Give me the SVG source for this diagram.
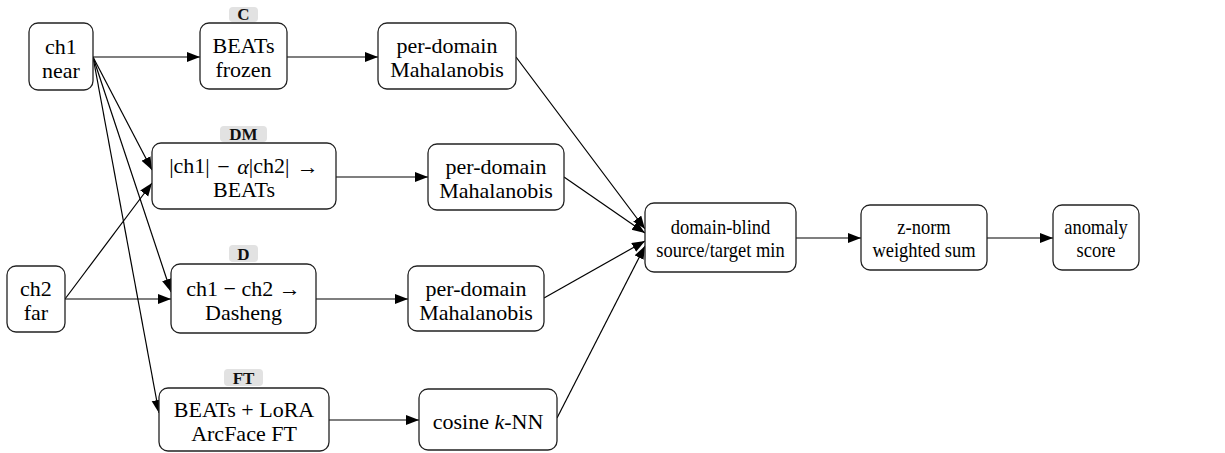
<svg xmlns="http://www.w3.org/2000/svg" width="1225" height="453" viewBox="0 0 1225 453">
<style>
.box{fill:#fff;stroke:#222;stroke-width:1.3}
.t{font-size:22px;fill:#000;text-anchor:middle;dominant-baseline:central}
.s{font-size:21px;fill:#000;text-anchor:middle;dominant-baseline:central}
.pill{fill:#e2e2e2;stroke:none}
.pt{font-size:17px;font-weight:bold;fill:#111;text-anchor:middle;dominant-baseline:central}
.e{stroke:#000;stroke-width:1.2;fill:none;marker-end:url(#ah)}
</style>
<defs>
<marker id="ah" markerUnits="userSpaceOnUse" markerWidth="14" markerHeight="11" refX="13" refY="5" orient="auto">
<path d="M0,0 L13,5 L0,10 z" fill="#000"/>
</marker>
</defs>
<rect width="1225" height="453" fill="#fff"/>
<g id="connectors">
<line class="e" x1="93" y1="57" x2="200" y2="57"/>
<line class="e" x1="287" y1="57" x2="378" y2="57"/>
<line class="e" x1="93" y1="57" x2="152" y2="170"/>
<line class="e" x1="65" y1="299" x2="152" y2="183"/>
<line class="e" x1="93" y1="57" x2="171" y2="292"/>
<line class="e" x1="65" y1="299" x2="171" y2="299"/>
<line class="e" x1="93" y1="57" x2="159" y2="413"/>
<line class="e" x1="336" y1="177" x2="428" y2="177"/>
<line class="e" x1="316" y1="299" x2="408" y2="299"/>
<line class="e" x1="329" y1="420" x2="419" y2="420"/>
<line class="e" x1="516" y1="57" x2="645" y2="229"/>
<line class="e" x1="564" y1="177" x2="645" y2="233"/>
<line class="e" x1="544" y1="298" x2="645" y2="241"/>
<line class="e" x1="557" y1="418" x2="645" y2="246"/>
<line class="e" x1="796" y1="238" x2="861" y2="238"/>
<line class="e" x1="987" y1="238" x2="1053" y2="238"/>
</g>
<g font-family="'Liberation Serif', 'Times New Roman', Tinos, 'Nimbus Roman', serif">
<g id="ch1">
<rect class="box" x="29" y="23" width="64" height="67" rx="9"/>
<text class="t" x="61" y="46">ch1</text>
<text class="t" x="61" y="70">near</text>
</g>
<g id="ch2">
<rect class="box" x="7" y="266" width="58" height="66" rx="9"/>
<text class="t" x="36" y="288.5">ch2</text>
<text class="t" x="36" y="312.5">far</text>
</g>
<g id="beats_frozen">
<rect class="pill" x="229" y="7" width="29" height="15" rx="4"/>
<text class="pt" x="243.5" y="14.5">C</text>
<rect class="box" x="200" y="23" width="87" height="66" rx="9"/>
<text class="t" x="243.5" y="45.5">BEATs</text>
<text class="t" x="243.5" y="69.5">frozen</text>
</g>
<g id="maha1">
<rect class="box" x="378" y="23" width="138" height="66" rx="9"/>
<text class="t" x="447" y="45.5">per-domain</text>
<text class="t" x="447" y="69.5">Mahalanobis</text>
</g>
<g id="dm">
<rect class="pill" x="220" y="126" width="47" height="16" rx="4"/>
<text class="pt" x="243.5" y="134.5">DM</text>
<rect class="box" x="152" y="143" width="184" height="66" rx="9"/>
<text class="t" x="244" y="165.5">|ch1| <tspan dx="2">−</tspan> <tspan dx="2" font-style="italic">α</tspan>|ch2| <tspan dx="2">→</tspan></text>
<text class="t" x="244" y="189.5">BEATs</text>
</g>
<g id="maha2">
<rect class="box" x="428" y="144" width="136" height="66" rx="9"/>
<text class="t" x="496" y="166.5">per-domain</text>
<text class="t" x="496" y="190.5">Mahalanobis</text>
</g>
<g id="d">
<rect class="pill" x="229" y="245" width="29" height="17" rx="4"/>
<text class="pt" x="243.5" y="254">D</text>
<rect class="box" x="171" y="264" width="145" height="69" rx="9"/>
<text class="t" x="243.5" y="288">ch1 − ch2 →</text>
<text class="t" x="243.5" y="312">Dasheng</text>
</g>
<g id="maha3">
<rect class="box" x="408" y="266" width="136" height="65" rx="9"/>
<text class="t" x="476" y="288">per-domain</text>
<text class="t" x="476" y="312">Mahalanobis</text>
</g>
<g id="ft">
<rect class="pill" x="224" y="369" width="39" height="17" rx="4"/>
<text class="pt" x="243.5" y="378">FT</text>
<rect class="box" x="159" y="388" width="170" height="63" rx="9"/>
<text class="t" x="244" y="409">BEATs + LoRA</text>
<text class="t" x="244" y="433">ArcFace FT</text>
</g>
<g id="knn">
<rect class="box" x="419" y="389" width="138" height="61" rx="9"/>
<text class="t" x="488" y="421">cosine <tspan font-style="italic">k</tspan>-NN</text>
</g>
<g id="blind">
<rect class="box" x="645" y="203" width="151" height="69" rx="9"/>
<text class="s" transform="translate(720.5,226.5) scale(0.88,1)">domain-blind</text>
<text class="s" transform="translate(720.5,249.5) scale(0.88,1)">source/target min</text>
</g>
<g id="znorm">
<rect class="box" x="861" y="205" width="126" height="65" rx="9"/>
<text class="s" transform="translate(924,226.5) scale(0.88,1)">z-norm</text>
<text class="s" transform="translate(924,249.5) scale(0.88,1)">weighted sum</text>
</g>
<g id="anomaly">
<rect class="box" x="1053" y="205" width="86" height="65" rx="9"/>
<text class="s" transform="translate(1096,226.5) scale(0.88,1)">anomaly</text>
<text class="s" transform="translate(1096,249.5) scale(0.88,1)">score</text>
</g>
</g>
</svg>
